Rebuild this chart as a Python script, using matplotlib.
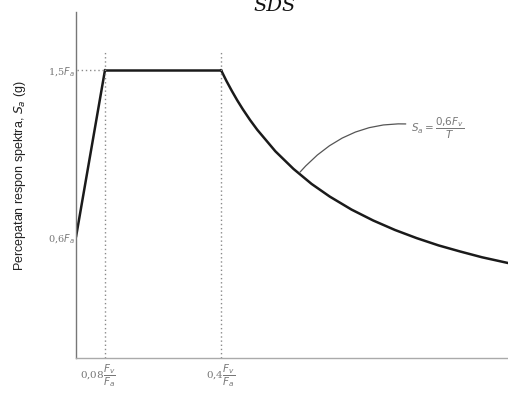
import matplotlib
matplotlib.use("Agg")
import matplotlib.pyplot as plt
import matplotlib.transforms as mtransforms

# Spectrum (T in units of Fv/Fa, Sa in units of Fa)
T_rise = [0.0, 0.08]
Sa_rise = [0.6, 1.5]
T_plateau = [0.08, 0.4]
Sa_plateau = [1.5, 1.5]
T_decay = [0.40, 0.415, 0.43, 0.445, 0.46, 0.48, 0.50, 0.55, 0.60, 0.65, 0.70,
           0.76, 0.82, 0.88, 0.94, 1.00, 1.06, 1.12, 1.192]
Sa_decay = [1.50, 1.441, 1.387, 1.336, 1.289, 1.231, 1.178, 1.062, 0.967, 0.886, 0.818,
            0.748, 0.689, 0.638, 0.594, 0.555, 0.522, 0.491, 0.460]

T0 = 0.08
Ts = 0.4
y_ticks = [0.6, 1.5]
y_tick_labels = [r"0,6$F_a$", r"1,5$F_a$"]
x_tick_labels = [r"0,08$\dfrac{F_v}{F_a}$", r"0,4$\dfrac{F_v}{F_a}$"]
formula = r"$S_a = \dfrac{0{,}6F_v}{T}$"
ylabel = r"Percepatan respon spektra, $S_a$ (g)"
title = "SDS"

W, H = 508, 398
fig = plt.figure(figsize=(W / 100, H / 100), dpi=100)
fig.patch.set_facecolor("white")
ax = fig.add_axes([76 / W, (H - 358) / H, (W - 76) / W, (358 - 12) / H])

ax.set_xlim(0, 1.1917)
ax.set_ylim(-0.0517, 1.8125)

line_kw = dict(color="#1a1a1a", lw=1.8, solid_capstyle="round", solid_joinstyle="round")
ax.plot(T_rise, Sa_rise, **line_kw)
ax.plot(T_plateau, Sa_plateau, **line_kw)
ax.plot(T_decay, Sa_decay, **line_kw)

dot_kw = dict(color="#8a8a8a", lw=1.0, ls=(0, (1, 2)))
ax.plot([T0, T0], [-0.0517, 1.6], **dot_kw)
ax.plot([Ts, Ts], [-0.0517, 1.6], **dot_kw)
ax.plot([0.003, T0], [1.5, 1.5], **dot_kw)

for s in ["top", "right"]:
    ax.spines[s].set_visible(False)
ax.spines["left"].set_color("#777777")
ax.spines["bottom"].set_color("#aaaaaa")
ax.spines["left"].set_linewidth(1.0)
ax.spines["bottom"].set_linewidth(1.0)
ax.tick_params(length=0)
ax.set_yticks(y_ticks)
ax.set_yticklabels(y_tick_labels, color="#777777", fontsize=7, family="DejaVu Serif")
ax.tick_params(axis="y", pad=1)
ax.set_xticks([T0, Ts])
ax.set_xticklabels(x_tick_labels, color="#777777", fontsize=7.5, family="DejaVu Serif")
ax.tick_params(axis="x", pad=3)
offsets_px = [-7, 0]
for lbl, off in zip(ax.get_xticklabels(), offsets_px):
    lbl.set_transform(lbl.get_transform() + mtransforms.ScaledTranslation(off / 100, 0, fig.dpi_scale_trans))

ax.set_ylabel(ylabel, fontsize=9, family="Liberation Sans", color="#222222")
ax.yaxis.set_label_coords(-0.112, 0.526)

ax.annotate(formula, xy=(0.618, 0.95), xytext=(0.925, 1.185),
            fontsize=7.5, color="#777777", va="center", ha="left",
            arrowprops=dict(arrowstyle="-", color="#555555", lw=0.9,
                            connectionstyle="arc3,rad=0.3", shrinkA=2, shrinkB=0))

fig.text(275 / W, 1 - 11 / H, title, ha="center", va="baseline",
         fontsize=14, style="italic", family="DejaVu Serif", color="#111111")

fig.savefig("out.png", dpi=100, facecolor="white")
